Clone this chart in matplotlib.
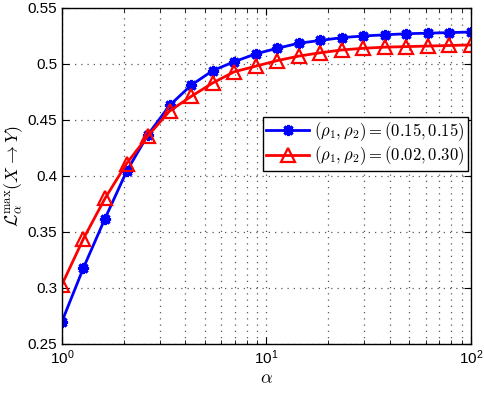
import matplotlib
matplotlib.use('Agg')
import matplotlib.pyplot as plt
from matplotlib.ticker import FuncFormatter, LogLocator, NullFormatter

plt.rcParams['font.family'] = ['Liberation Sans', 'DejaVu Sans']
plt.rcParams['mathtext.fontset'] = 'cm'

# valores
alpha = [1.0, 1.274, 1.624, 2.069, 2.637, 3.360, 4.281, 5.456, 6.952, 8.859,
         11.29, 14.38, 18.33, 23.36, 29.76, 37.93, 48.33, 61.58, 78.48, 100.0]
blue_vals = [0.270, 0.318, 0.362, 0.404, 0.437, 0.463, 0.481, 0.494, 0.502, 0.509,
             0.514, 0.5185, 0.521, 0.5235, 0.525, 0.526, 0.527, 0.5275, 0.528, 0.5285]
red_vals = [0.303, 0.344, 0.380, 0.411, 0.436, 0.458, 0.471, 0.483, 0.493, 0.498,
            0.503, 0.507, 0.510, 0.5125, 0.514, 0.515, 0.5155, 0.516, 0.5165, 0.517]
blue_label = r'$(\rho_1,\rho_2)=(0.15,0.15)$'
red_label = r'$(\rho_1,\rho_2)=(0.02,0.30)$'
y_ticks = [0.25, 0.3, 0.35, 0.4, 0.45, 0.5, 0.55]

fig = plt.figure(figsize=(4.84, 3.98), dpi=100)
ax = fig.add_axes([0.128, 0.1357, 0.845, 0.8443])

ax.plot(alpha, blue_vals, color='blue', lw=2, marker=(8, 2, 0), ms=8, mew=2.2,
        label=blue_label)
ax.plot(alpha, red_vals, color='red', lw=2, marker='^', ms=10, mew=1.6,
        mfc='none', label=red_label)

ax.set_xscale('log')
ax.set_xlim(1, 100)
ax.set_ylim(0.25, 0.55)
ax.set_yticks(y_ticks)
ax.yaxis.set_major_formatter(FuncFormatter(lambda v, p: '%g' % v))
ax.xaxis.set_minor_locator(LogLocator(base=10, subs=range(2, 10), numticks=20))
ax.xaxis.set_minor_formatter(NullFormatter())

grid_style = dict(ls=(0, (1, 4)), color='0.35', lw=0.9)
ax.grid(True, which='major', **grid_style)
ax.grid(True, which='minor', axis='x', **grid_style)
ax.tick_params(which='both', direction='in', top=True, right=True, labelsize=11)
ax.tick_params(which='major', length=5)
ax.tick_params(which='minor', length=3)
for s in ax.spines.values():
    s.set_linewidth(1)

ax.set_xlabel(r'$\alpha$', fontsize=13, labelpad=2)
ax.set_ylabel(r'$\mathcal{L}_{\alpha}^{\max}(X\rightarrow Y)$', fontsize=13, labelpad=2)

leg = ax.legend(loc='upper right', bbox_to_anchor=(0.993, 0.676), fontsize=12,
                fancybox=False, edgecolor='black', framealpha=1,
                handlelength=2.6, borderpad=0.2, labelspacing=0.1,
                handletextpad=0.3, borderaxespad=0)
leg.get_frame().set_linewidth(1)

plt.savefig('out.png', dpi=100)
